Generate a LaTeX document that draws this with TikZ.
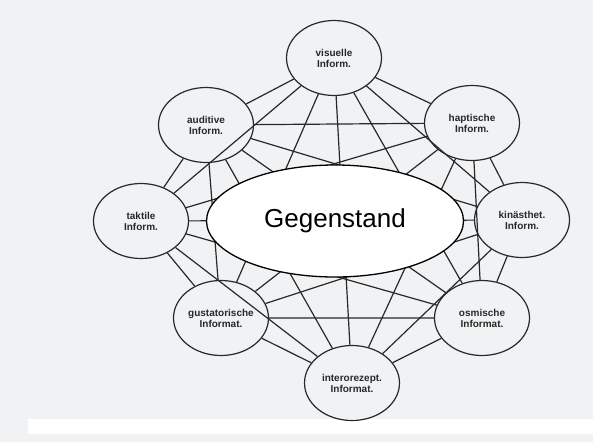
\documentclass[tikz,border=0pt]{standalone}
\usepackage{fontspec}
\setmainfont{Liberation Sans}
\usetikzlibrary{shapes.geometric}
\definecolor{scan}{RGB}{241,242,244}
\definecolor{ink}{RGB}{40,40,40}
\begin{document}
\begin{tikzpicture}[
  x=1pt, y=-1pt,
  sense/.style={draw=ink, line width=1.2pt, ellipse, minimum width=95pt, minimum height=75pt, inner sep=0pt, align=center, text=ink, font=\fontsize{10}{11}\selectfont\bfseries},
  link/.style={draw=ink, line width=1.2pt},
  thing/.style={draw=black, line width=1.3pt, fill=white, ellipse, minimum width=257pt, minimum height=112pt, inner sep=0pt, font=\fontsize{26}{30}\selectfont}
]
\fill[scan] (0,0) rectangle (593,442);
\fill[white] (28,419) rectangle (593,434);
\useasboundingbox (0,0) rectangle (593,442);
% the eight channels
\node[sense] (vis) at (334,58)  {visuelle\\Inform.};
\node[sense] (aud) at (206,125) {auditive\\Inform.};
\node[sense] (hap) at (472,123) {haptische\\Inform.};
\node[sense] (tak) at (141,221) {taktile\\Inform.};
\node[sense] (kin) at (522,220) {kinästhet.\\Inform.};
\node[sense] (gus) at (221,318) {gustatorische\\Informat.};
\node[sense] (osm) at (482,318) {osmische\\Informat.};
\node[sense] (int) at (352,383) {interorezept.\\Informat.};
% every channel with every other one
\draw[link] (vis) -- (aud) (vis) -- (hap) (vis) -- (tak) (vis) -- (kin)
            (vis) -- (gus) (vis) -- (osm) (vis) -- (int);
\draw[link] (aud) -- (hap) (aud) -- (tak) (aud) -- (kin) (aud) -- (gus)
            (aud) -- (osm) (aud) -- (int);
\draw[link] (hap) -- (tak) (hap) -- (kin) (hap) -- (gus) (hap) -- (osm)
            (hap) -- (int);
\draw[link] (tak) -- (kin) (tak) -- (gus) (tak) -- (osm) (tak) -- (int);
\draw[link] (kin) -- (gus) (kin) -- (osm) (kin) -- (int);
\draw[link] (gus) -- (osm) (gus) -- (int);
\draw[link] (osm) -- (int);
% object in the middle
\node[thing] (obj) at (335,221) {Gegenstand};
\end{tikzpicture}
\end{document}
